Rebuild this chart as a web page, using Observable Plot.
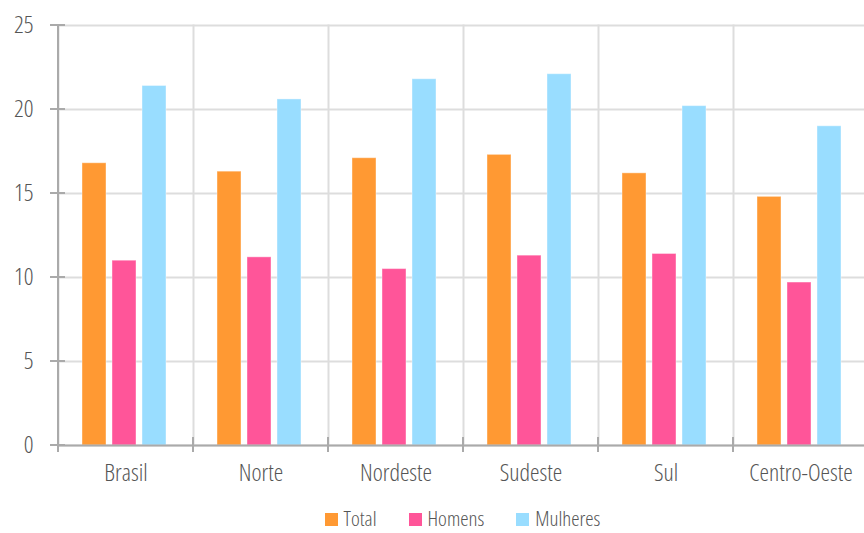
<!DOCTYPE html>
<html>
<head>
<meta charset="utf-8">
<script src="https://cdn.jsdelivr.net/npm/d3@7"></script>
<script src="https://cdn.jsdelivr.net/npm/@observablehq/plot@0.6"></script>
<style>
  html, body { margin: 0; padding: 0; background: #fff; overflow: hidden; width: 864px; height: 533px; position: relative; }
  #chart svg { display: block; overflow: visible; }
  #chart svg text { font-stretch: 75%; font-weight: 300; }
  .legend { position: absolute; left: 57px; top: 506px; width: 811px; height: 24px; line-height: 24px; text-align: center;
    font-family: "Open Sans", sans-serif; font-stretch: 75%; font-weight: 300; font-size: 21px; color: #555; white-space: nowrap; }
  .legend .item { display: inline-block; margin: 0 16px; }
  .legend .sw { width: 13px; height: 13px; display: inline-block; vertical-align: baseline; margin-right: 6px; }
</style>
</head>
<body>
<div id="chart"></div>
<div class="legend" id="legend"></div>
<script>
const regions = ["Brasil", "Norte", "Nordeste", "Sudeste", "Sul", "Centro-Oeste"];
const seriesNames = ["Total", "Homens", "Mulheres"];
const seriesColors = ["#FF9933", "#FF5599", "#99DDFF"];
const total = [16.8, 16.3, 17.1, 17.3, 16.2, 14.8];
const homens = [11.0, 11.2, 10.5, 11.3, 11.4, 9.7];
const mulheres = [21.4, 20.6, 21.8, 22.1, 20.2, 19.0];
const yTicks = [0, 5, 10, 15, 20, 25];

const seriesValues = [total, homens, mulheres];
const data = [];
regions.forEach((r, i) => seriesNames.forEach((s, j) => data.push({region: r, series: s, value: seriesValues[j][i]})));

const font = '"Open Sans", sans-serif';

const plot = Plot.plot({
  width: 864,
  height: 505,
  marginLeft: 57,
  marginRight: -4,
  marginTop: 25,
  marginBottom: 60,
  style: {fontFamily: font, fontSize: "24px", color: "#555", background: "#fff", overflow: "visible"},
  fx: {domain: regions, padding: 0, label: null},
  x: {domain: seriesNames, paddingInner: 0.21, paddingOuter: 0.855, align: 0.47, axis: null},
  y: {domain: [0, 25], ticks: yTicks, label: null},
  color: {domain: seriesNames, range: seriesColors},
  marks: [
    Plot.gridY(yTicks, {stroke: "#dddddd", strokeOpacity: 1, strokeWidth: 2}),
    Plot.frame({anchor: "left", stroke: "#dddddd", strokeOpacity: 1, strokeWidth: 2}),
    Plot.barY(data, {fx: "region", x: "series", y: "value", fill: "series", stroke: "#ffffff", strokeOpacity: 0.4, strokeWidth: 1}),
    Plot.ruleY([0], {stroke: "#aaaaaa", strokeWidth: 2}),
    Plot.axisY(yTicks, {tickSize: 0, tickPadding: 25, fontSize: 24, fill: "#555"}),
    Plot.axisFx({anchor: "bottom", tickSize: 0, tickPadding: 18, fontSize: 24, fill: "#555", label: null})
  ]
});

document.getElementById("chart").appendChild(plot);

// axis decorations from the library's scales
const svg = d3.select(plot);
const ys = plot.scale("y");
const fxs = plot.scale("fx");
const y0 = ys.apply(0), yTop = ys.apply(25);
const left = fxs.apply(regions[0]);
const g = svg.append("g").attr("stroke", "#aaaaaa").attr("stroke-width", 2);
g.append("line").attr("x1", left).attr("x2", left).attr("y1", yTop).attr("y2", y0 + 7);
yTicks.forEach(t => {
  const yy = ys.apply(t);
  g.append("line").attr("x1", left - 8).attr("x2", left + 7).attr("y1", yy).attr("y2", yy);
});
regions.forEach(r => {
  const xx = fxs.apply(r);
  g.append("line").attr("x1", xx).attr("x2", xx).attr("y1", y0 - 8).attr("y2", y0 + 7);
});

// legend
const lg = d3.select("#legend");
seriesNames.forEach((s, i) => {
  const it = lg.append("span").attr("class", "item");
  it.append("span").attr("class", "sw").style("background", seriesColors[i]);
  it.append("span").text(s);
});
</script>
</body>
</html>
